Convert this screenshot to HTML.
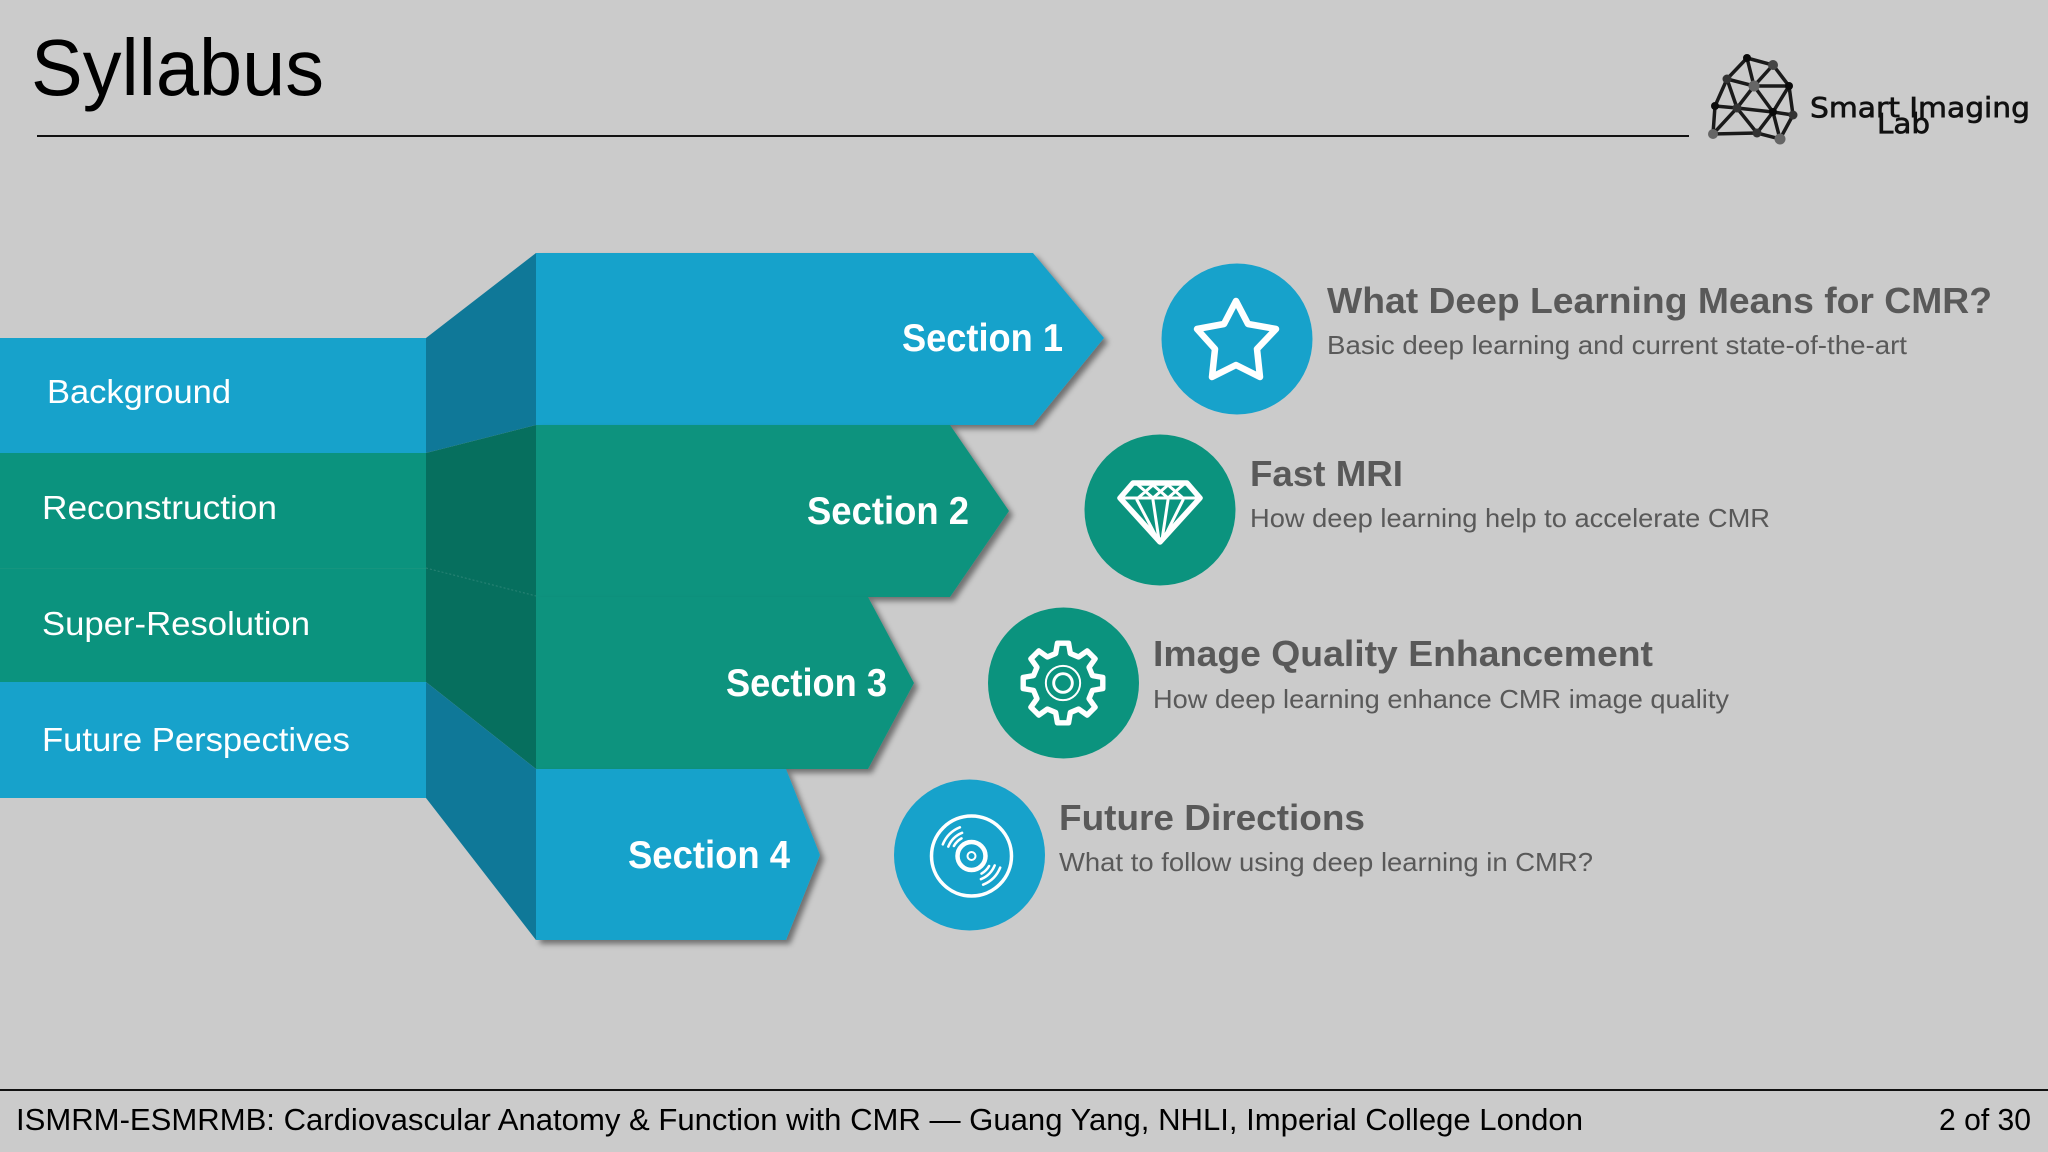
<!DOCTYPE html>
<html><head><meta charset="utf-8"><title>Syllabus</title>
<style>
html,body{margin:0;padding:0;background:#cbcbcb;width:2048px;height:1152px;overflow:hidden}
svg{display:block}
text{font-family:"Liberation Sans",sans-serif}
</style></head>
<body>
<svg xmlns="http://www.w3.org/2000/svg" width="2048" height="1152" viewBox="0 0 2048 1152">
<defs>
<filter id="s" x="-10%" y="-10%" width="125%" height="130%"><feDropShadow dx="4" dy="4" stdDeviation="3" flood-color="#000" flood-opacity="0.45"/></filter>
</defs>
<rect width="2048" height="1152" fill="#cbcbcb"/>

<!-- Title -->
<text x="31" y="95" font-size="80" fill="#000" textLength="293" lengthAdjust="spacingAndGlyphs">Syllabus</text>
<rect x="37" y="135" width="1652" height="2" fill="#111"/>

<!-- Logo -->
<g stroke="#1a1a1a" stroke-width="3.5" fill="none">
<path d="M1747 58L1773 65L1789 86L1793 115L1780 139L1757 133L1713 134L1715 106L1727 79L1747 58M1747 58L1754 86L1773 65M1727 79L1754 86L1789 86L1773 112L1793 115M1727 79L1737 108L1754 86L1773 112L1780 139M1715 106L1737 108L1773 112L1757 133L1737 108L1713 134"/>
</g>
<g>
<circle cx="1747" cy="58" r="4" fill="#0a0a0a"/><circle cx="1773" cy="65" r="5" fill="#444"/>
<circle cx="1727" cy="79" r="4.5" fill="#333"/><circle cx="1754" cy="86" r="5.5" fill="#666"/>
<circle cx="1789" cy="86" r="4" fill="#0a0a0a"/><circle cx="1715" cy="106" r="4" fill="#0a0a0a"/>
<circle cx="1737" cy="108" r="4.5" fill="#333"/><circle cx="1773" cy="112" r="4" fill="#0a0a0a"/>
<circle cx="1793" cy="115" r="4.5" fill="#333"/><circle cx="1713" cy="134" r="5" fill="#666"/>
<circle cx="1757" cy="133" r="4.5" fill="#333"/><circle cx="1780" cy="139" r="5.5" fill="#666"/>
</g>
<text x="1810" y="117" font-size="28" fill="#111" stroke="#111" stroke-width="0.7" style="font-family:'DejaVu Sans',sans-serif" textLength="220" lengthAdjust="spacingAndGlyphs">Smart Imaging</text>
<text x="1877" y="133" font-size="28" fill="#111" stroke="#111" stroke-width="0.7" style="font-family:'DejaVu Sans',sans-serif" textLength="53" lengthAdjust="spacingAndGlyphs">Lab</text>

<!-- Arrows -->
<polygon points="536,253 1033,253 1104,338 1033,425 536,425" fill="#17a2cb" filter="url(#s)"/>
<polygon points="536,425 950,425 1009,511 950,597 536,597" fill="#0b937e" filter="url(#s)"/>
<polygon points="536,597 868,597 914,683 868,769 536,769" fill="#0b937e" filter="url(#s)"/>
<polygon points="536,769 786,769 820,855 786,940 536,940" fill="#17a2cb" filter="url(#s)"/>

<!-- Connector panels -->
<polygon points="426,338 536,253 536,425 426,453" fill="#0f7898"/>
<polygon points="426,453 536,425 536,769 426,682" fill="#066f5e"/>
<polygon points="426,682 536,769 536,940 426,798" fill="#0f7898"/>
<line x1="426" y1="568" x2="536" y2="596" stroke="#2b8476" stroke-width="1" stroke-dasharray="2 2"/>

<!-- Left bands -->
<rect x="0" y="338" width="426" height="115" fill="#17a2cb"/>
<rect x="0" y="453" width="426" height="229" fill="#0b937e"/>
<rect x="0" y="568" width="426" height="1" fill="#16957f"/>
<rect x="0" y="682" width="426" height="116" fill="#17a2cb"/>

<g fill="#fff" font-size="33">
<text x="47" y="403" textLength="184" lengthAdjust="spacingAndGlyphs">Background</text>
<text x="42" y="519" textLength="235" lengthAdjust="spacingAndGlyphs">Reconstruction</text>
<text x="42" y="635" textLength="268" lengthAdjust="spacingAndGlyphs">Super-Resolution</text>
<text x="42" y="751" textLength="308" lengthAdjust="spacingAndGlyphs">Future Perspectives</text>
</g>
<g fill="#fff" font-size="39" font-weight="bold">
<text x="902" y="351" textLength="161" lengthAdjust="spacingAndGlyphs">Section 1</text>
<text x="807" y="524" textLength="162" lengthAdjust="spacingAndGlyphs">Section 2</text>
<text x="726" y="696" textLength="161" lengthAdjust="spacingAndGlyphs">Section 3</text>
<text x="628" y="868" textLength="162" lengthAdjust="spacingAndGlyphs">Section 4</text>
</g>

<!-- Circles -->
<circle cx="1237" cy="339" r="75.5" fill="#17a2cb"/>
<circle cx="1160" cy="510" r="75.5" fill="#0b937e"/>
<circle cx="1063.5" cy="683" r="75.5" fill="#0b937e"/>
<circle cx="969.5" cy="855" r="75.5" fill="#17a2cb"/>

<!-- Star -->
<polygon points="1236,301 1248,324 1276,329 1257,349 1260,377 1236,365 1212,377 1215,349 1197,329 1224,324" fill="none" stroke="#fff" stroke-width="6.5" stroke-linejoin="round"/>

<!-- Diamond -->
<g fill="none" stroke="#fff" stroke-linejoin="round" stroke-linecap="round">
<polygon points="1133,483 1187,483 1200,498 1160,542 1120,498" stroke-width="5.5"/>
<path d="M1120,498H1200M1138,485L1153,498M1153,485L1138,498M1153,485L1168,498M1168,485L1153,498M1168,485L1183,498M1183,485L1168,498M1137,500L1158,540M1153,500L1159,540M1168,500L1162,540M1183,500L1163,540" stroke-width="3"/>
</g>

<!-- Gear -->
<g transform="translate(1063,683) scale(0.98)" fill="none" stroke="#fff">
<polygon stroke-width="5.5" stroke-linejoin="round" points="30.08,-7.5 40.6,-5.7 40.6,5.7 30.08,7.5 26.57,15.97 32.74,24.67 24.67,32.74 15.97,26.57 7.5,30.08 5.7,40.6 -5.7,40.6 -7.5,30.08 -15.97,26.57 -24.67,32.74 -32.74,24.67 -26.57,15.97 -30.08,7.5 -40.6,5.7 -40.6,-5.7 -30.08,-7.5 -26.57,-15.97 -32.74,-24.67 -24.67,-32.74 -15.97,-26.57 -7.5,-30.08 -5.7,-40.6 5.7,-40.6 7.5,-30.08 15.97,-26.57 24.67,-32.74 32.74,-24.67 26.57,-15.97"/>
<circle r="17.5" stroke-width="2"/>
<circle r="9.5" stroke-width="3"/>
</g>

<!-- Disc -->
<g transform="translate(971.5,856)" fill="none" stroke="#fff" stroke-linecap="round">
<circle r="40" stroke-width="3.5"/>
<circle r="14" stroke-width="4.5"/>
<circle r="4" stroke-width="2"/>
<path stroke-width="2.5" d="M-28.7,-11.6A31,31 0 0 1 -11.6,-28.7M-23.2,-9.4A25,25 0 0 1 -9.4,-23.2M-17.6,-10A20,20 0 0 1 -10,-17.6M28.7,11.6A31,31 0 0 1 11.6,28.7M23.2,9.4A25,25 0 0 1 9.4,23.2M17.6,10A20,20 0 0 1 10,17.6"/>
</g>

<!-- Right text -->
<g fill="#595959">
<text x="1327" y="313" font-size="36" font-weight="bold" textLength="665" lengthAdjust="spacingAndGlyphs">What Deep Learning Means for CMR?</text>
<text x="1327" y="354" font-size="26" textLength="580" lengthAdjust="spacingAndGlyphs">Basic deep learning and current state-of-the-art</text>
<text x="1250" y="486" font-size="36" font-weight="bold" textLength="153" lengthAdjust="spacingAndGlyphs">Fast MRI</text>
<text x="1250" y="527" font-size="26" textLength="520" lengthAdjust="spacingAndGlyphs">How deep learning help to accelerate CMR</text>
<text x="1153" y="666" font-size="36" font-weight="bold" textLength="500" lengthAdjust="spacingAndGlyphs">Image Quality Enhancement</text>
<text x="1153" y="708" font-size="26" textLength="576" lengthAdjust="spacingAndGlyphs">How deep learning enhance CMR image quality</text>
<text x="1059" y="830" font-size="36" font-weight="bold" textLength="306" lengthAdjust="spacingAndGlyphs">Future Directions</text>
<text x="1059" y="871" font-size="26" textLength="534" lengthAdjust="spacingAndGlyphs">What to follow using deep learning in CMR?</text>
</g>

<!-- Footer -->
<rect x="0" y="1089" width="2048" height="2" fill="#111"/>
<text x="16" y="1130" font-size="31" fill="#000" textLength="1567" lengthAdjust="spacingAndGlyphs">ISMRM-ESMRMB: Cardiovascular Anatomy &amp; Function with CMR — Guang Yang, NHLI, Imperial College London</text>
<text x="1939" y="1130" font-size="31" fill="#000" textLength="92" lengthAdjust="spacingAndGlyphs">2 of 30</text>
</svg>
</body></html>
